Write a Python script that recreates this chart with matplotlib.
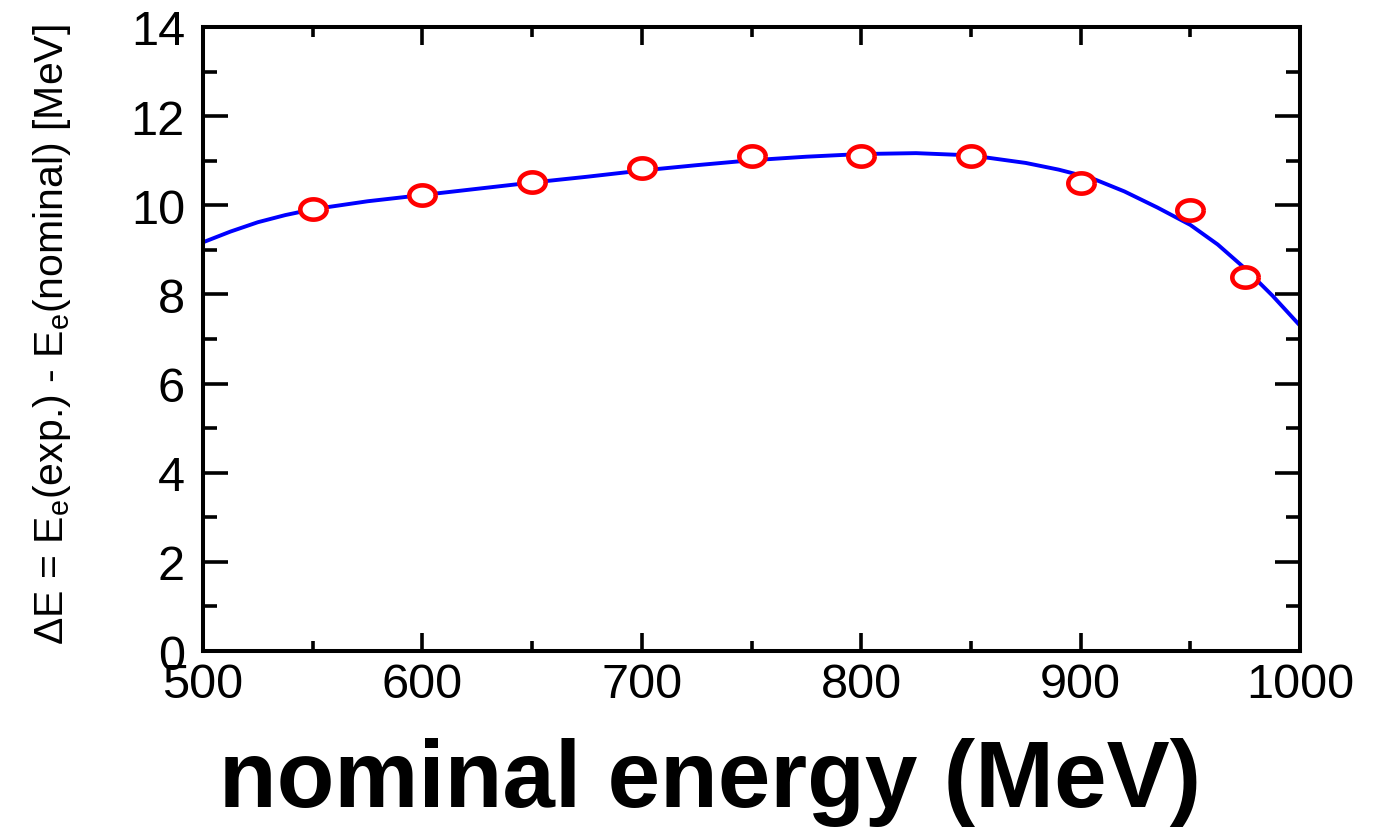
import matplotlib
matplotlib.use('Agg')
import matplotlib.pyplot as plt
import numpy as np
from matplotlib.path import Path
from matplotlib.ticker import MultipleLocator

plt.rcParams['font.family'] = ['Liberation Sans', 'DejaVu Sans']
plt.rcParams['mathtext.fontset'] = 'custom'
plt.rcParams['mathtext.rm'] = 'Liberation Sans'
plt.rcParams['mathtext.it'] = 'Liberation Sans'

# measured shifts
energie = [550, 600, 650, 700, 750, 800, 850, 900, 950, 975]
delta_e = [9.92, 10.23, 10.53, 10.83, 11.10, 11.10, 11.10, 10.50, 9.89, 8.39]

# fitted curve
fit_e = [500, 512.5, 525, 537.5, 550, 575, 600, 625, 650, 675, 700, 725, 750,
         775, 800, 825, 850, 875, 890, 905, 920, 935, 950, 962.5, 975, 987.5, 1000]
fit_de = [9.17, 9.41, 9.62, 9.78, 9.91, 10.09, 10.23, 10.37, 10.51, 10.64, 10.78,
          10.90, 11.01, 11.09, 11.15, 11.17, 11.12, 10.95, 10.80, 10.61, 10.31,
          9.95, 9.56, 9.12, 8.58, 7.97, 7.30]

# marqueur ellipse (un peu plus large que haut)
t = np.linspace(0, 2*np.pi, 60)
ellipse = Path(np.column_stack([1.3*np.cos(t), np.sin(t)]))

fig = plt.figure(figsize=(13.94, 8.28), dpi=100)
ax = fig.add_axes([203/1394, 1-652/828, 1097/1394, 624/828])

ax.plot(fit_e, fit_de, color='#0000ff', lw=2.8, zorder=2)
ax.plot(energie, delta_e, ls='none', marker=ellipse, ms=19,
        mfc='white', mec='#ff0000', mew=3.3, zorder=3)

ax.set_xlim(500, 1000)
ax.set_ylim(0, 14)
ax.xaxis.set_major_locator(MultipleLocator(100))
ax.xaxis.set_minor_locator(MultipleLocator(50))
ax.yaxis.set_major_locator(MultipleLocator(2))
ax.yaxis.set_minor_locator(MultipleLocator(1))

for s in ax.spines.values():
    s.set_linewidth(2.9)

ax.tick_params(axis='both', which='both', direction='in',
               top=True, right=True, width=2.6, labelsize=35)
ax.tick_params(axis='x', which='major', length=13, pad=8)
ax.tick_params(axis='x', which='minor', length=7)
ax.tick_params(axis='y', which='major', length=18, pad=13)
ax.tick_params(axis='y', which='minor', length=10)

fig.text(710/1394, 1-783/828, 'nominal energy (MeV)', fontsize=68,
         fontweight='bold', ha='center', va='center')
fig.text(52/1394, 1-335/828,
         r'$\Delta$E = E$_{\rm e}$(exp.) - E$_{\rm e}$(nominal) [MeV]',
         fontsize=29.5, rotation=90, ha='center', va='center')

fig.savefig('out.png', dpi=100)
